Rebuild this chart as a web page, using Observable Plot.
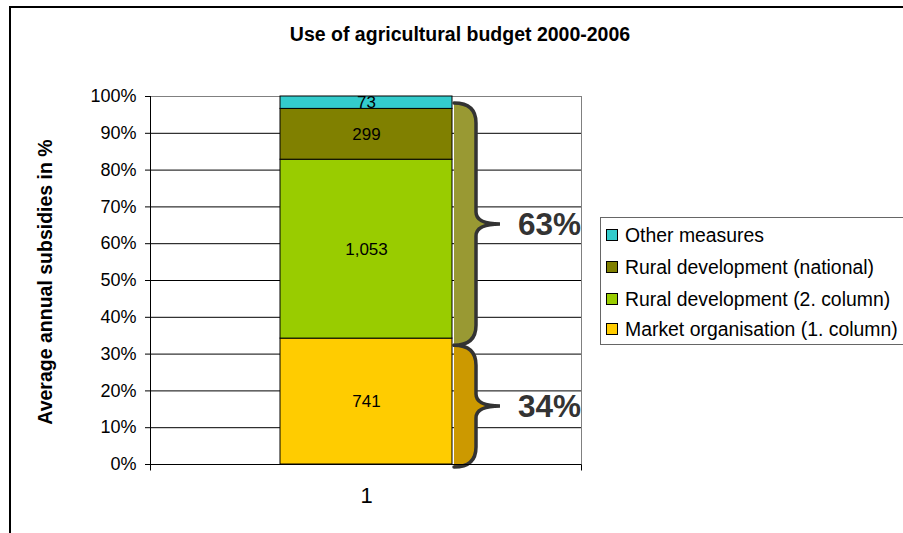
<!DOCTYPE html>
<html><head><meta charset="utf-8">
<script src="https://cdn.jsdelivr.net/npm/d3@7"></script>
<script src="https://cdn.jsdelivr.net/npm/@observablehq/plot@0.6"></script>
<style>
body{margin:0;background:#fff;font-family:Arial,"Liberation Sans",sans-serif;}
#wrap{position:relative;width:903px;height:533px;overflow:hidden;background:#fff;}
#border{position:absolute;left:9px;top:6px;width:1000px;height:1000px;border:2px solid #000;box-sizing:border-box;}
#chart{position:absolute;left:0;top:0;}
#title{position:absolute;left:160px;width:600px;top:23px;text-align:center;font-weight:bold;font-size:19.5px;line-height:22px;color:#000;}
#ylabel{position:absolute;left:-115px;width:320px;top:271px;height:22px;line-height:22px;text-align:center;font-weight:bold;font-size:19.5px;transform:rotate(-90deg);transform-origin:50% 50%;color:#000;}
#legend{position:absolute;left:600px;top:217px;width:320px;height:128px;border:1px solid #666;box-sizing:border-box;}
.row{position:absolute;left:0;height:22px;line-height:22px;font-size:19.4px;color:#000;white-space:nowrap;}
.sw{position:absolute;left:5px;top:5px;width:12px;height:12px;border:1px solid #000;box-sizing:border-box;}
.lt{position:absolute;left:24px;top:0;}
</style></head>
<body>
<div id="wrap">
  <div id="border"></div>
  <div id="chart"></div>
  <div id="title"></div>
  <div id="ylabel"></div>
  <div id="legend"></div>
</div>
<script>
// ---- data ----
const titleText = "Use of agricultural budget 2000-2006";
const yLabelText = "Average annual subsidies in %";
const categories = ["1"];
const series = ["Market organisation (1. column)", "Rural development (2. column)", "Rural development (national)", "Other measures"];
const values = [741, 1053, 299, 73];
const colors = ["#FFCC00", "#99CC00", "#808000", "#33CCCC"];
const yTicks = [0, 0.1, 0.2, 0.3, 0.4, 0.5, 0.6, 0.7, 0.8, 0.9, 1.0];
const braceFrom = [-0.008, 0.323];
const braceTo = [0.323, 0.981];
const braceLabels = ["34%", "63%"];
const braceFills = ["#CC9900", "#999933"];

const data = series.map((s, i) => ({cat: categories[0], series: s, value: values[i]}));
const fmt = d3.format(",");

document.getElementById("title").textContent = titleText;
document.getElementById("ylabel").textContent = yLabelText;

// legend (top entry = top of stack)
const legend = document.getElementById("legend");
const rowTops = [6, 38, 70, 100];
series.slice().reverse().forEach((s, i) => {
  const row = document.createElement("div");
  row.className = "row";
  row.style.top = rowTops[i] + "px";
  const sw = document.createElement("div");
  sw.className = "sw";
  sw.style.background = colors[series.length - 1 - i];
  const lt = document.createElement("div");
  lt.className = "lt";
  lt.textContent = s;
  row.appendChild(sw); row.appendChild(lt);
  legend.appendChild(row);
});

function bracePath(x0, x1, xt, y1, y2, r, rt, close) {
  const ym = (y1 + y2) / 2;
  return `M${x0},${y1} Q${x1},${y1} ${x1},${y1 + r} L${x1},${ym - rt} Q${x1},${ym} ${xt},${ym} Q${x1},${ym} ${x1},${ym + rt} L${x1},${y2 - r} Q${x1},${y2} ${x0},${y2}` + (close ? " Z" : "");
}

function braceMark(index, scales) {
  const xs = scales.x;
  const bw = xs.bandwidth ? xs.bandwidth() : (scales.scales && scales.scales.x ? scales.scales.x.bandwidth : 172);
  const right = xs(categories[0]) + bw;
  const x0 = right + 2, x1 = right + 24, xt = right + 48;
  const g = d3.create("svg:g");
  braceFrom.forEach((f, i) => {
    const yTop = scales.y(braceTo[i]);
    const yBot = scales.y(f);
    g.append("path").attr("d", bracePath(x0, x1, xt, yTop, yBot, 20, 12, true))
      .attr("fill", braceFills[i]).attr("stroke", "none");
    g.append("path").attr("d", bracePath(x0, x1, xt, yTop, yBot, 20, 12, false))
      .attr("fill", "none").attr("stroke", "#333").attr("stroke-width", 3.5).attr("stroke-linecap", "round");
    g.append("text").attr("x", xt + 18).attr("y", (yTop + yBot) / 2)
      .attr("dy", "0.36em").attr("text-anchor", "start").attr("font-size", 31.5).attr("font-weight", "bold").attr("fill", "#333")
      .text(braceLabels[i]);
  });
  return g.node();
}

function frameMark(index, scales, values, dim) {
  const {width, height, marginLeft, marginRight, marginTop, marginBottom} = dim;
  const L = marginLeft + 0.5, R = width - marginRight + 0.5, T = marginTop, B = height - marginBottom + 0.5;
  const g = d3.create("svg:g");
  g.append("line").attr("x1", R).attr("x2", R).attr("y1", T).attr("y2", B).attr("stroke", "#808080");
  g.append("line").attr("x1", L).attr("x2", L).attr("y1", T).attr("y2", B + 6).attr("stroke", "#000");
  g.append("line").attr("x1", R).attr("x2", R).attr("y1", B).attr("y2", B + 6).attr("stroke", "#000");
  g.append("line").attr("x1", L - 5).attr("x2", R).attr("y1", B).attr("y2", B).attr("stroke", "#000");
  return g.node();
}

const plot = Plot.plot({
  width: 903,
  height: 533,
  marginLeft: 150,
  marginRight: 322,
  marginTop: 96,
  marginBottom: 69,
  style: {fontFamily: "Arial, 'Liberation Sans', sans-serif", fontSize: "18px", color: "#000", background: "transparent", overflow: "visible"},
  x: {domain: categories, padding: 0.4286, axis: null},
  y: {domain: [0, 1], ticks: 10, tickFormat: d => Math.round(d * 100) + "%", tickSize: 5, tickPadding: 9, label: null},
  color: {domain: series, range: colors},
  marks: [
    Plot.ruleY(yTicks.filter(t => t < 1), {stroke: "#000", strokeOpacity: 1}),
    Plot.ruleY(yTicks.filter(t => t >= 1), {stroke: "#808080", strokeOpacity: 1}),
    Plot.barY(data, Plot.stackY({offset: "normalize", x: "cat", y: "value", fill: "series", stroke: "#000", strokeWidth: 1})),
    Plot.text(data, Plot.stackY({offset: "normalize", x: "cat", y: "value", text: d => fmt(d.value), fontSize: 17, fill: "#000"})),
    Plot.text(categories, {x: d => d, frameAnchor: "bottom", dy: 38, fontSize: 22, fill: "#000"}),
    braceMark,
    frameMark
  ]
});
document.getElementById("chart").appendChild(plot);
</script>
</body></html>
